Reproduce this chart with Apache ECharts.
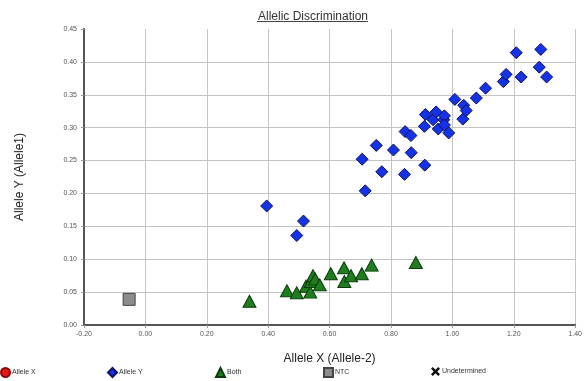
<!DOCTYPE html>
<html>
<head>
<meta charset="utf-8">
<script src="https://cdn.jsdelivr.net/npm/echarts@6/dist/echarts.min.js"></script>
<style>
  html, body { margin: 0; padding: 0; background: #fff; }
  #container { width: 585px; height: 381px; }
</style>
</head>
<body>
<div id="container"></div>
<script>
// data: [allele X, allele Y]
var alleleX = [];
var alleleY = [
    [0.395, 0.181], [0.493, 0.136], [0.515, 0.158], [0.706, 0.252], [0.716, 0.204],
    [0.752, 0.273], [0.770, 0.233], [0.808, 0.266], [0.844, 0.229], [0.846, 0.294],
    [0.865, 0.288], [0.866, 0.262], [0.910, 0.243], [0.909, 0.302], [0.912, 0.320],
    [0.937, 0.312], [0.947, 0.324], [0.954, 0.298], [0.972, 0.312], [0.974, 0.318],
    [0.974, 0.304], [0.988, 0.292], [1.008, 0.343], [1.034, 0.313], [1.037, 0.334],
    [1.045, 0.326], [1.078, 0.345], [1.108, 0.360], [1.166, 0.370], [1.175, 0.381],
    [1.208, 0.414], [1.224, 0.377], [1.283, 0.392], [1.288, 0.419], [1.307, 0.377]
];
var both = [
    [0.339, 0.036], [0.461, 0.052], [0.493, 0.049], [0.523, 0.059], [0.537, 0.050],
    [0.539, 0.066], [0.546, 0.075], [0.553, 0.070], [0.568, 0.061], [0.604, 0.078],
    [0.647, 0.087], [0.648, 0.066], [0.670, 0.075], [0.705, 0.078], [0.737, 0.091],
    [0.881, 0.095]
];
var ntc = [[-0.053, 0.039]];
var undetermined = [];

var seriesNames = ['Allele X', 'Allele Y', 'Both', 'NTC', 'Undetermined'];
var crossIcon = 'path://M2,0 L5,3 L8,0 L10,2 L7,5 L10,8 L8,10 L5,7 L2,10 L0,8 L3,5 L0,2 Z';

var dom = document.getElementById('container');
var myChart = echarts.init(dom);
var font = 'Liberation Sans, Arial, sans-serif';

// one small legend per entry, spread along the bottom
var legendLeft = [0, 107, 215, 323, 431];
var legendIcon = ['circle', 'diamond', 'triangle', 'rect', crossIcon];
var legends = seriesNames.map(function (n, i) {
    return {
        data: [{ name: n, icon: legendIcon[i] }],
        left: legendLeft[i],
        top: 367,
        padding: 0,
        itemWidth: 9,
        itemHeight: 9,
        itemGap: 3,
        selectedMode: false,
        textStyle: { fontSize: 7, color: '#333', fontFamily: font, padding: [0, 0, 0, -3] }
    };
});

var option = {
    backgroundColor: '#fff',
    animation: false,
    title: {
        text: 'Allelic Discrimination',
        left: 253,
        top: 6,
        textStyle: { fontSize: 12, fontWeight: 'normal', color: '#333', fontFamily: font }
    },
    graphic: [{
        type: 'line',
        shape: { x1: 257, y1: 21.5, x2: 368, y2: 21.5 },
        style: { stroke: '#444', lineWidth: 1 }
    }],
    legend: legends,
    grid: { left: 84, right: 8, top: 29, bottom: 56 },
    xAxis: {
        type: 'value',
        min: -0.2,
        max: 1.4,
        interval: 0.2,
        name: 'Allele X (Allele-2)',
        nameLocation: 'middle',
        nameGap: 28,
        nameTextStyle: { fontSize: 12, color: '#222', fontFamily: font },
        axisLine: { show: true, onZero: false, lineStyle: { color: '#555', width: 2 } },
        axisTick: { show: true, length: 3, lineStyle: { color: '#999' } },
        axisLabel: {
            fontSize: 7, color: '#555', fontFamily: font, margin: 6,
            formatter: function (v) { return v.toFixed(2); }
        },
        splitLine: { show: true, lineStyle: { color: '#c4c4c4', width: 1 } }
    },
    yAxis: {
        type: 'value',
        min: 0,
        max: 0.45,
        interval: 0.05,
        name: 'Allele Y (Allele1)',
        nameLocation: 'middle',
        nameGap: 58,
        nameTextStyle: { fontSize: 12, color: '#222', fontFamily: font },
        axisLine: { show: true, onZero: false, lineStyle: { color: '#555', width: 2 } },
        axisTick: { show: true, length: 3, lineStyle: { color: '#999' } },
        axisLabel: {
            fontSize: 7, color: '#555', fontFamily: font, margin: 7,
            formatter: function (v) { return v.toFixed(2); }
        },
        splitLine: { show: true, showMaxLine: false, lineStyle: { color: '#c4c4c4', width: 1 } }
    },
    series: [
        {
            name: 'Allele X', type: 'scatter', data: alleleX,
            symbol: 'circle', symbolSize: 10,
            itemStyle: { color: '#e8141a', borderColor: '#8a0a0a', borderWidth: 1, opacity: 1 }
        },
        {
            name: 'Allele Y', type: 'scatter', data: alleleY,
            symbol: 'diamond', symbolSize: 12,
            itemStyle: { color: '#1432e6', borderColor: '#10105e', borderWidth: 1, opacity: 1 }
        },
        {
            name: 'Both', type: 'scatter', data: both,
            symbol: 'triangle', symbolSize: [13, 12],
            itemStyle: { color: '#1f7d1f', borderColor: '#0b3b0b', borderWidth: 1, opacity: 1 }
        },
        {
            name: 'NTC', type: 'scatter', data: ntc,
            symbol: 'rect', symbolSize: 12,
            itemStyle: { color: '#8c8c8c', borderColor: '#444', borderWidth: 1, opacity: 1 }
        },
        {
            name: 'Undetermined', type: 'scatter', data: undetermined,
            symbol: crossIcon, symbolSize: 10,
            itemStyle: { color: '#111', opacity: 1 }
        }
    ]
};

myChart.setOption(option, true);
</script>
</body>
</html>
